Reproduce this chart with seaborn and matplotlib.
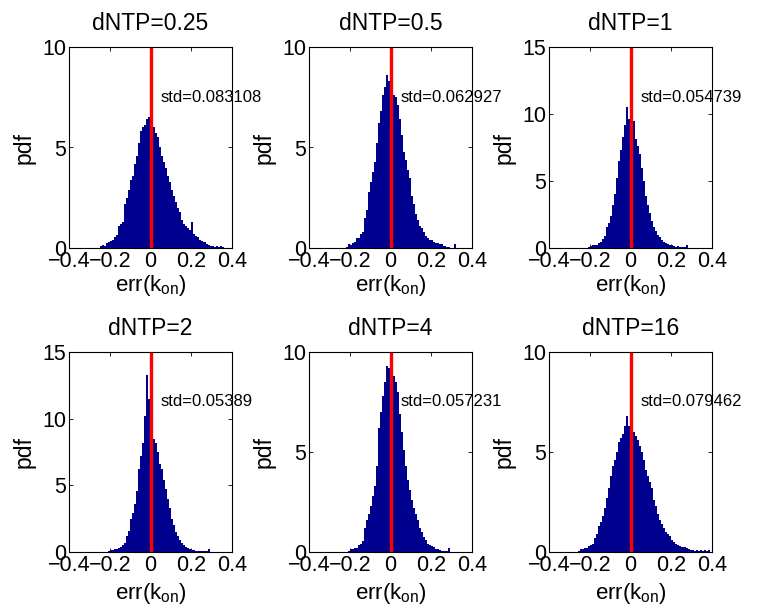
import numpy as np
import pandas as pd
import matplotlib
matplotlib.use("Agg")
import matplotlib.pyplot as plt
import seaborn as sns

# ---- data (pdf per 0.01-wide bin) ----
titles = ["dNTP=0.25", "dNTP=0.5", "dNTP=1", "dNTP=2", "dNTP=4", "dNTP=16"]
std_labels = ["std=0.083108", "std=0.062927", "std=0.054739",
              "std=0.05389", "std=0.057231", "std=0.079462"]
ymax = [10, 10, 15, 15, 10, 10]
bin_width = 0.01
first_edge = [-0.25, -0.22, -0.21, -0.21, -0.21, -0.26]

pdf_025 = [0.1, 0.15, 0.1, 0.25, 0.3, 0.35, 0.4, 0.55, 0.65, 1.1, 1.2, 1.3, 2.2, 2.5,
           2.9, 3.4, 3.6, 4.2, 4.6, 5.2, 5.8, 6.0, 6.1, 6.4, 6.5, 6.3, 6.0, 5.7, 5.5,
           5.0, 4.6, 4.3, 4.0, 3.6, 3.3, 2.9, 2.6, 2.3, 2.0, 1.8, 1.4, 1.2, 1.1, 1.0,
           0.9, 1.3, 0.7, 0.6, 0.55, 0.4, 0.35, 0.3, 0.2, 0.15, 0.1, 0.1, 0.05, 0.1,
           0.05, 0.1, 0.05]
pdf_05 = [0.05, 0.2, 0.15, 0.25, 0.3, 0.5, 0.5, 0.7, 0.8, 1.5, 1.9, 2.8, 3.3, 3.8,
          4.3, 5.2, 6.2, 6.8, 7.6, 8.0, 8.6, 8.3, 7.9, 7.6, 7.5, 7.1, 6.4, 5.6, 4.8,
          4.4, 3.9, 3.5, 2.6, 2.2, 1.7, 1.4, 1.1, 1.0, 0.8, 0.6, 0.5, 0.4, 0.4, 0.3,
          0.25, 0.25, 0.2, 0.2, 0.1, 0.05, 0.05, 0.0, 0.0, 0.2]
pdf_1 = [0.05, 0.15, 0.2, 0.2, 0.25, 0.4, 0.45, 0.7, 0.9, 1.6, 1.9, 2.4, 3.2, 4.0,
         5.2, 6.5, 7.3, 8.3, 9.2, 10.5, 9.6, 8.9, 9.5, 8.1, 7.6, 7.0, 6.0, 5.0, 3.9,
         3.2, 2.6, 2.0, 1.6, 1.3, 1.0, 0.8, 0.6, 0.45, 0.35, 0.3, 0.25, 0.2, 0.15,
         0.1, 0.15, 0.05, 0.05, 0.05, 0.2]
pdf_2 = [0.1, 0.15, 0.15, 0.25, 0.25, 0.3, 0.35, 0.5, 0.7, 1.2, 1.6, 2.5, 2.9, 3.6,
         4.6, 6.2, 7.2, 8.2, 10.2, 13.3, 11.5, 9.8, 8.5, 8.2, 7.5, 6.6, 6.2, 5.4, 4.7,
         4.0, 3.3, 2.5, 2.0, 1.5, 1.2, 0.9, 0.7, 0.55, 0.4, 0.3, 0.2, 0.15, 0.15, 0.1,
         0.1, 0.05, 0.05, 0.05, 0.05, 0.2]
pdf_4 = [0.05, 0.15, 0.15, 0.2, 0.2, 0.35, 0.4, 0.55, 1.2, 1.6, 1.9, 2.3, 2.8, 3.3,
         4.3, 6.2, 7.0, 7.8, 8.5, 9.3, 9.2, 9.0, 8.8, 8.5, 8.0, 6.9, 6.0, 5.1, 4.3,
         3.6, 3.1, 2.6, 2.2, 1.9, 1.6, 1.2, 1.0, 0.75, 0.6, 0.4, 0.35, 0.3, 0.25,
         0.15, 0.15, 0.1, 0.05, 0.05, 0.05, 0.2]
pdf_16 = [0.05, 0.15, 0.15, 0.2, 0.2, 0.3, 0.35, 0.4, 0.7, 0.9, 1.3, 1.5, 1.8, 2.2,
          2.7, 3.2, 3.8, 4.3, 4.6, 5.0, 5.5, 5.7, 5.9, 6.3, 6.8, 6.3, 6.2, 6.0, 5.8,
          5.6, 5.3, 5.0, 4.6, 4.1, 3.8, 3.5, 3.2, 2.6, 2.3, 1.9, 1.6, 1.4, 1.2, 1.0,
          0.9, 0.8, 0.6, 0.5, 0.4, 0.35, 0.3, 0.25, 0.25, 0.2, 0.15, 0.1, 0.1, 0.05,
          0.1, 0.05, 0.1, 0.05, 0.1, 0.05, 0.1]
all_pdfs = [pdf_025, pdf_05, pdf_1, pdf_2, pdf_4, pdf_16]

xticks = [-0.4, -0.2, 0, 0.2, 0.4]
xtick_labels = ["\u22120.4", "\u22120.2", "0", "0.2", "0.4"]

# ---- style ----
sns.set_style("ticks")
plt.rcParams["font.family"] = ["Liberation Sans", "DejaVu Sans"]
plt.rcParams["mathtext.fontset"] = "custom"
plt.rcParams["mathtext.rm"] = "Liberation Sans"
plt.rcParams["mathtext.it"] = "Liberation Sans"
plt.rcParams["text.color"] = "black"
plt.rcParams["axes.labelcolor"] = "black"
plt.rcParams["xtick.color"] = "black"
plt.rcParams["ytick.color"] = "black"

bar_color = "#00008F"

fig = plt.figure(figsize=(7.69, 6.09), dpi=100)
lefts = [69, 309, 549]
tops = [47, 352]
heights_px = [201, 200]
W, H = 769, 609

for i in range(6):
    r, c = divmod(i, 3)
    l = lefts[c] / W
    b = 1 - (tops[r] + heights_px[r]) / H
    ax = fig.add_axes([l, b, 163 / W, heights_px[r] / H])

    vals = np.array(all_pdfs[i], dtype=float)
    n = len(vals)
    centers = first_edge[i] + bin_width * (np.arange(n) + 0.5)
    df = pd.DataFrame({"err": centers, "pdf": vals})
    sns.histplot(data=df, x="err", weights="pdf", binwidth=bin_width,
                 binrange=(first_edge[i], first_edge[i] + bin_width * n),
                 stat="count", color=bar_color, alpha=1.0, linewidth=0, ax=ax)

    ax.plot([0, 0], [0, ymax[i]], color="red", linewidth=2.4)
    ax.text(0.05, 0.75 * ymax[i], std_labels[i], ha="left", va="center",
            fontsize=12, color="black", clip_on=False)

    ax.set_xlim(-0.4, 0.4)
    ax.set_ylim(0, ymax[i])
    ax.set_xticks(xticks)
    ax.set_xticklabels(xtick_labels)
    ax.set_yticks(np.arange(0, ymax[i] + 1, 5))
    ax.tick_params(direction="in", top=True, right=True, labelsize=15.5,
                   length=3, width=0.6, pad=2, colors="black")
    for s in ax.spines.values():
        s.set_linewidth(0.8)
        s.set_color("black")
    ax.set_title(titles[i], fontsize=16.5, pad=12, color="black")
    ax.set_xlabel(r"err(k$_{\mathrm{on}}$)", fontsize=16, labelpad=1 + 3 * r)
    ax.set_ylabel("pdf", fontsize=16.5, labelpad=5)

fig.savefig("out.png", dpi=100, facecolor="white")
